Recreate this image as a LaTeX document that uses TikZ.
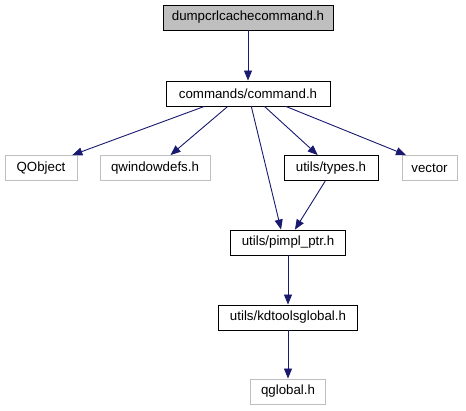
\documentclass[tikz,border=0pt]{standalone}
\usepackage{fontspec}
\setmainfont{Liberation Sans}
\usetikzlibrary{arrows.meta,calc}
\begin{document}
\begin{tikzpicture}[x=1pt,y=-1pt,
  box/.style={draw=black,line width=0.9pt,minimum height=25pt,inner sep=0pt,font=\fontsize{13.3}{16}\selectfont},
  gbox/.style={box,draw=black!25},
  topbox/.style={box,fill=black!25},
  edge/.style={draw=edgeblue,line width=0.9pt,-{Triangle[length=10pt,width=8pt]}}]
\definecolor{edgeblue}{HTML}{191970}
\useasboundingbox (0,0) rectangle (466,411);
\node[topbox,minimum width=170pt] (top) at (248,17.5) {dumpcrlcachecommand.h};
\node[box,minimum width=164pt] (cmd) at (248,93.5) {commands/command.h};
\node[gbox,minimum width=72pt] (qobj) at (41,168) {QObject};
\node[gbox,minimum width=110pt] (qwin) at (155,168) {qwindowdefs.h};
\node[box,minimum width=94pt] (types) at (331,168) {utils/types.h};
\node[gbox,minimum width=55pt] (vec) at (429.5,168) {vector};
\node[box,minimum width=115pt] (pimpl) at (288,242.5) {utils/pimpl\_ptr.h};
\node[box,minimum width=139pt] (kdt) at (288,317.5) {utils/kdtoolsglobal.h};
\node[gbox,minimum width=75pt] (qg) at (288,391.5) {qglobal.h};
\draw[edge] (top) -- (cmd);
\draw[edge] ($(cmd.south west)!0.235!(cmd.south east)$) -- ($(qobj.north west)!0.93!(qobj.north east)$);
\draw[edge] ($(cmd.south west)!0.377!(cmd.south east)$) -- ($(qwin.north west)!0.64!(qwin.north east)$);
\draw[edge] ($(cmd.south west)!0.52!(cmd.south east)$) -- ($(pimpl.north west)!0.44!(pimpl.north east)$);
\draw[edge] ($(cmd.south west)!0.60!(cmd.south east)$) -- ($(types.north west)!0.36!(types.north east)$);
\draw[edge] ($(cmd.south west)!0.73!(cmd.south east)$) -- ($(vec.north west)!0.08!(vec.north east)$);
\draw[edge] ($(types.south west)!0.44!(types.south east)$) -- ($(pimpl.north west)!0.56!(pimpl.north east)$);
\draw[edge] (pimpl) -- (kdt);
\draw[edge] (kdt) -- (qg);
\end{tikzpicture}
\end{document}
